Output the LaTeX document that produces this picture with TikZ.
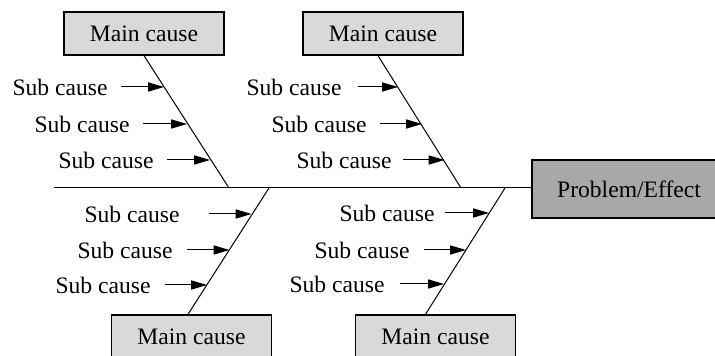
\documentclass[tikz,border=0pt]{standalone}
\usepackage{fontspec}
\setmainfont{Liberation Serif}
\usetikzlibrary{arrows.meta}

\begin{document}
\begin{tikzpicture}[x=0.5pt,y=-0.5pt,font=\fontsize{11.8}{14}\selectfont,
  main/.style={draw,line width=0.7pt,fill=black!15,minimum width=80pt,minimum height=21.5pt,inner sep=0pt},
  effect/.style={draw,line width=0.7pt,fill=black!34,minimum width=97pt,minimum height=29pt,inner sep=0pt},
  sub/.style={inner xsep=6.5pt,inner ysep=0pt,anchor=east},
  bone/.style={line width=0.5pt},
  subarrow/.style={line width=0.5pt,-{Triangle[length=8pt,width=4.6pt]}}]
\useasboundingbox (0,0) rectangle (715,356);
\clip (0,0) rectangle (715,356);

\node[effect] (pe) at (629,189) {Problem/Effect};
\node[main] (mc1) at (144,33.5) {Main cause};
\node[main] (mc2) at (383,33.5) {Main cause};
\node[main] (mc3) at (191.5,336.5) {Main cause};
\node[main] (mc4) at (435.5,336.5) {Main cause};

% spine and bones
\coordinate (sp) at (54,188);
\coordinate (j1) at (229,188);
\coordinate (j2) at (461,188);
\coordinate (j3) at (269,188);
\coordinate (j4) at (505,188);
\draw[bone] (sp) -- (sp -| pe.west);
\draw[bone] (mc1.south) -- (j1);
\draw[bone] ([xshift=-2.5pt]mc2.south) -- (j2);
\draw[bone] ([xshift=-1.75pt]mc3.north) -- (j3);
\draw[bone] ([xshift=-5pt]mc4.north) -- (j4);

% top left
\node[sub] (s11) at (121,87) {Sub cause};
\node[sub] (s12) at (143,124) {Sub cause};
\node[sub] (s13) at (167,160) {Sub cause};
\coordinate (t11) at (164,87);
\coordinate (t12) at (187,124);
\coordinate (t13) at (210,160);
\draw[subarrow] (s11) -- (t11);
\draw[subarrow] (s12) -- (t12);
\draw[subarrow] (s13) -- (t13);

% top middle
\node[sub,inner xsep=8pt] (s21) at (358,87) {Sub cause};
\node[sub] (s22) at (380,124) {Sub cause};
\node[sub,inner xsep=5.5pt] (s23) at (403,160) {Sub cause};
\coordinate (t21) at (398,87);
\coordinate (t22) at (422,124);
\coordinate (t23) at (444.5,160);
\draw[subarrow] (s21) -- (t21);
\draw[subarrow] (s22) -- (t22);
\draw[subarrow] (s23) -- (t23);

% bottom left
\node[sub,inner xsep=14.5pt] (s31) at (209,214) {Sub cause};
\node[sub,inner xsep=7pt] (s32) at (187,250) {Sub cause};
\node[sub,inner xsep=7pt] (s33) at (165,285) {Sub cause};
\coordinate (t31) at (251.5,214);
\coordinate (t32) at (229.5,250);
\coordinate (t33) at (207,285);
\draw[subarrow] (s31) -- (t31);
\draw[subarrow] (s32) -- (t32);
\draw[subarrow] (s33) -- (t33);

% bottom right
\node[sub,inner xsep=5pt] (s41) at (445,213) {Sub cause};
\node[sub,inner xsep=7pt] (s42) at (424,250) {Sub cause};
\node[sub,inner xsep=7.5pt] (s43) at (400,284) {Sub cause};
\coordinate (t41) at (489,213);
\coordinate (t42) at (466,250);
\coordinate (t43) at (444,284);
\draw[subarrow] (s41) -- (t41);
\draw[subarrow] (s42) -- (t42);
\draw[subarrow] (s43) -- (t43);
\end{tikzpicture}
\end{document}
